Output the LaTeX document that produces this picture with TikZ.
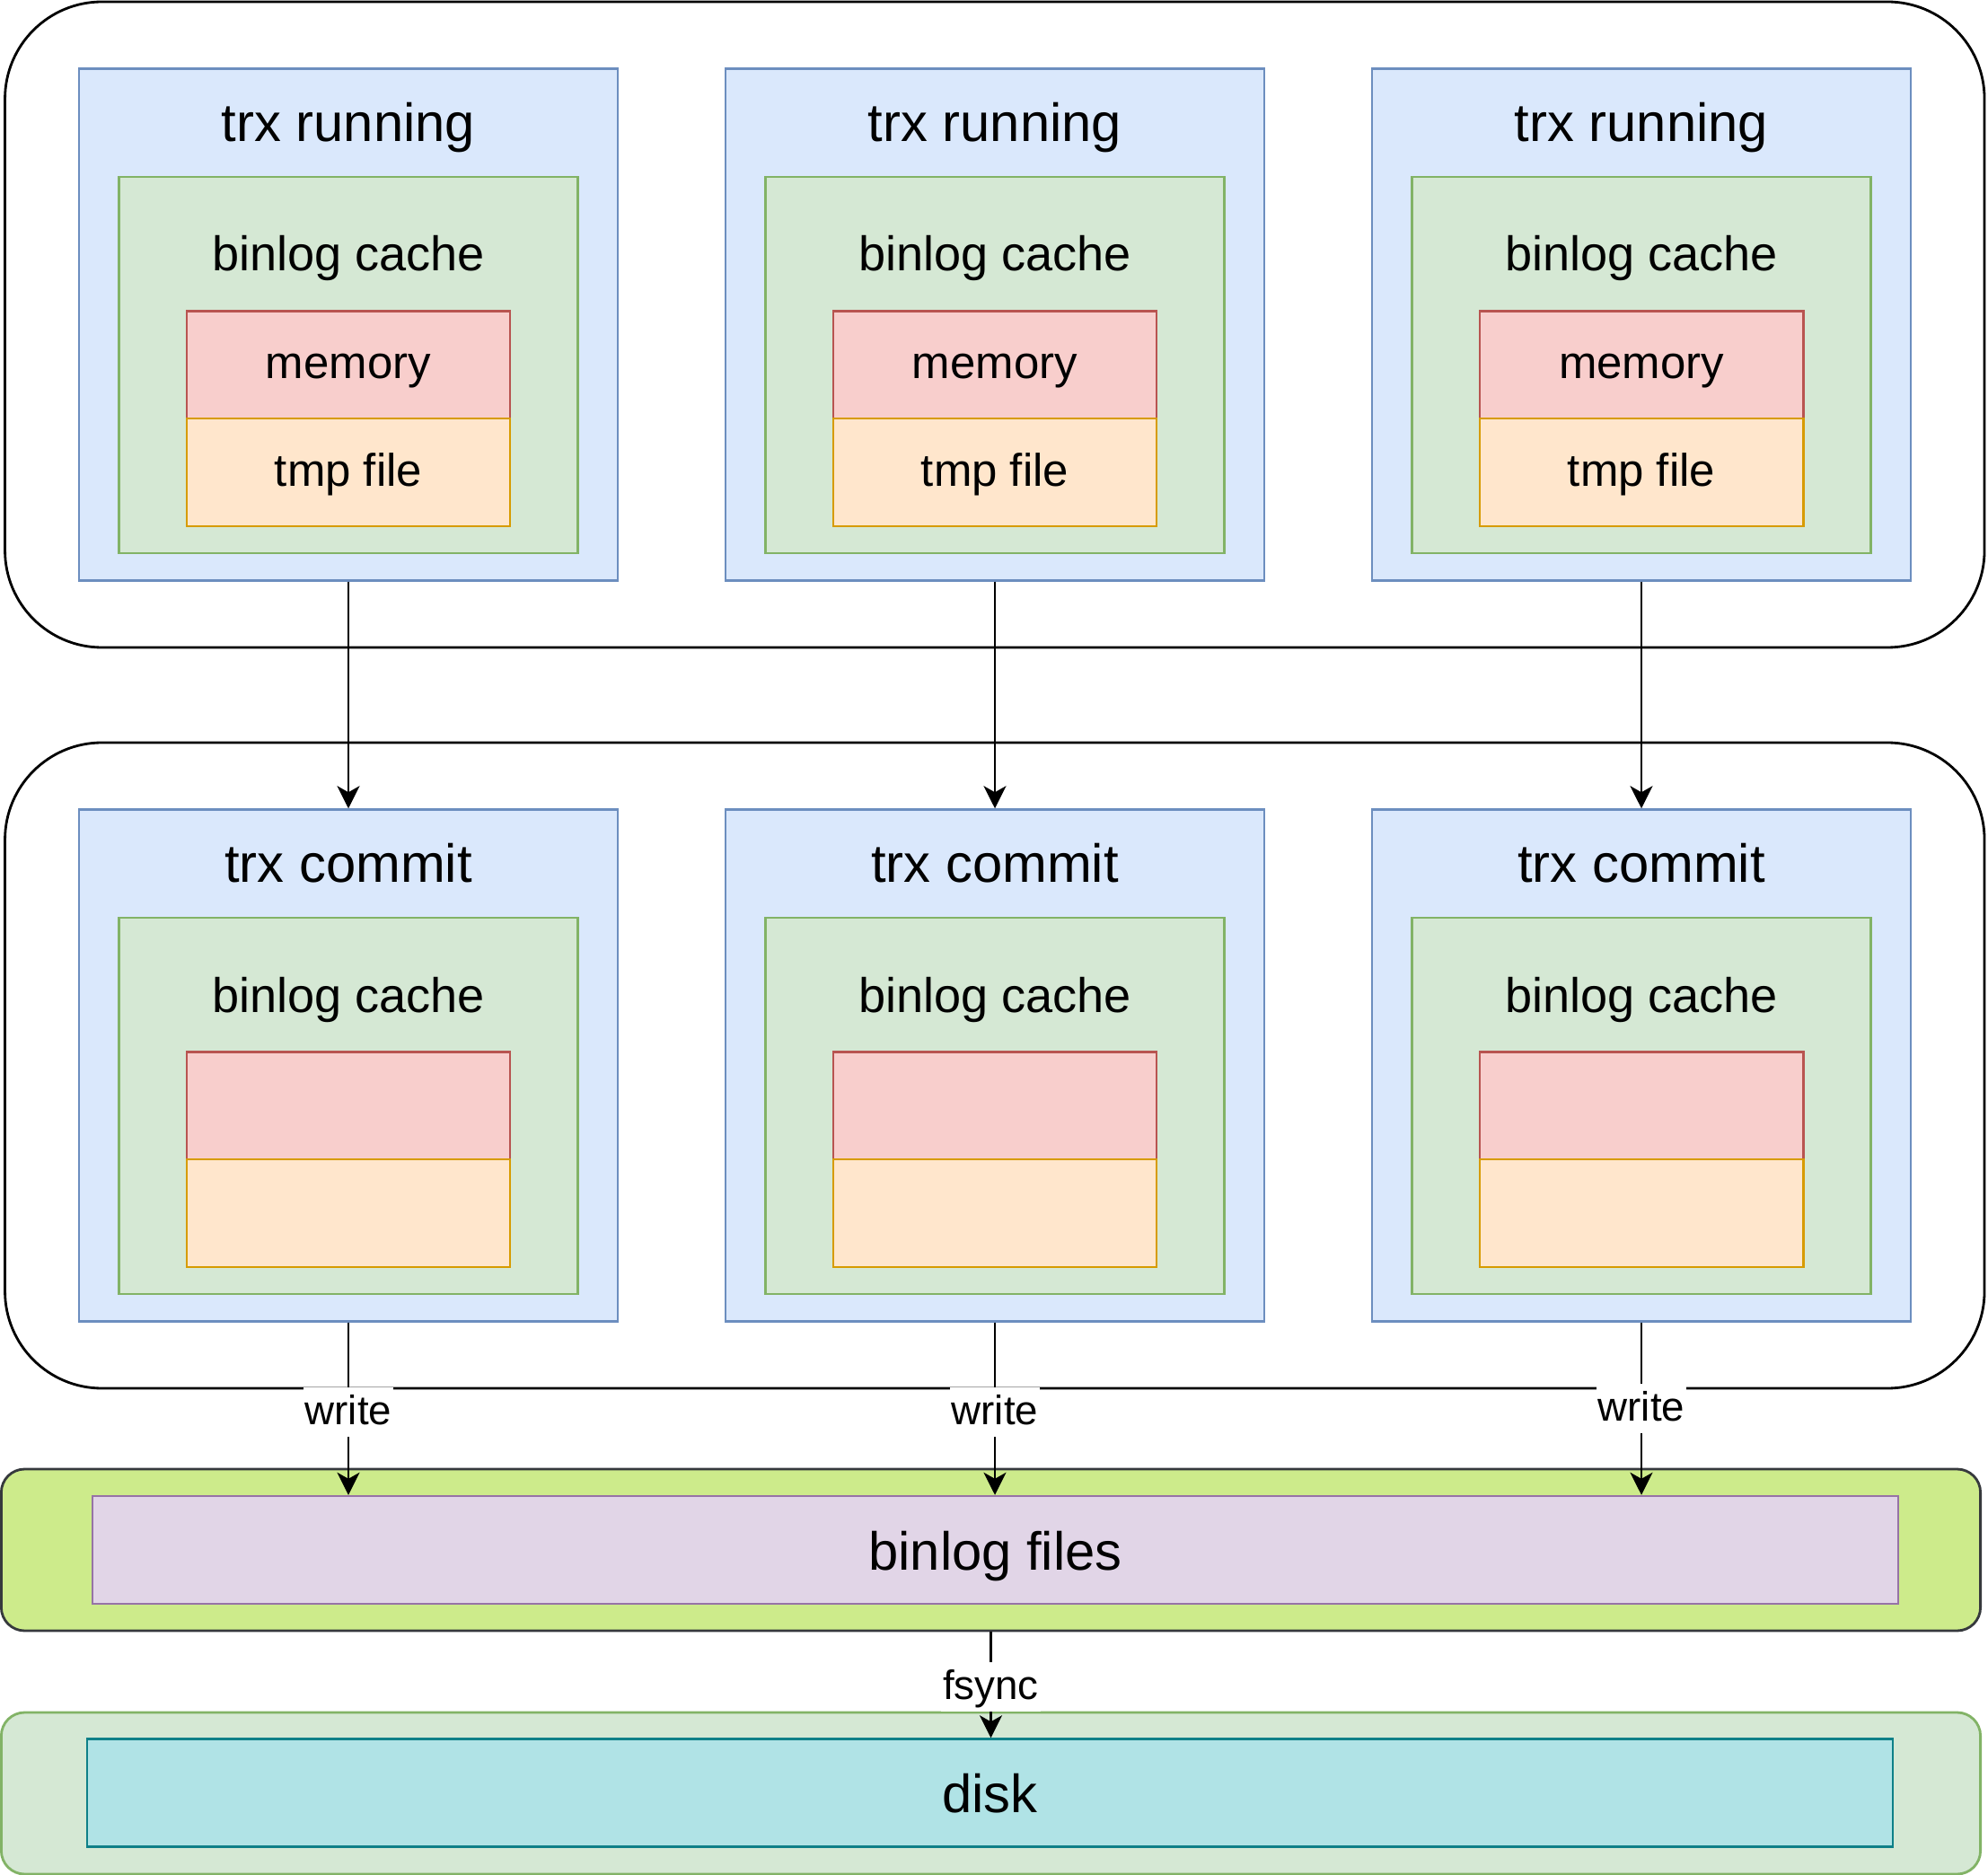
\documentclass[tikz,border=0pt]{standalone}
\usepackage{fontspec}
\setmainfont{Liberation Sans}
\usetikzlibrary{arrows.meta}
\definecolor{blueFill}{HTML}{DAE8FC}
\definecolor{blueLine}{HTML}{6C8EBF}
\definecolor{greenFill}{HTML}{D5E8D4}
\definecolor{greenLine}{HTML}{82B366}
\definecolor{redFill}{HTML}{F8CECC}
\definecolor{redLine}{HTML}{B85450}
\definecolor{orangeFill}{HTML}{FFE6CC}
\definecolor{orangeLine}{HTML}{D79B00}
\definecolor{purpleFill}{HTML}{E1D5E7}
\definecolor{purpleLine}{HTML}{9673A6}
\definecolor{limeFill}{HTML}{CDEB8B}
\definecolor{limeLine}{HTML}{36393D}
\definecolor{diskFill}{HTML}{B0E3E6}
\definecolor{diskLine}{HTML}{0E8088}

\begin{document}
\begin{tikzpicture}[y=-1cm,
  area/.style={draw=black, line width=0.8pt, rounded corners=1.08cm, inner sep=0, minimum width=22.045cm, minimum height=7.19cm},
  trxbox/.style={draw=blueLine, fill=blueFill, line width=0.7pt, inner sep=0, minimum width=6cm, minimum height=5.7cm},
  cachebox/.style={draw=greenLine, fill=greenFill, line width=0.7pt, inner sep=0, minimum width=5.11cm, minimum height=4.19cm},
  membox/.style={draw=redLine, fill=redFill, line width=0.7pt, inner sep=0, minimum width=3.605cm, minimum height=1.2cm, font=\fontsize{14.5}{17}\selectfont, text height=0.44cm, text depth=0.14cm},
  filebox/.style={membox, draw=orangeLine, fill=orangeFill},
  bigtext/.style={font=\fontsize{17}{20}\selectfont, anchor=base, inner sep=0},
  cachetext/.style={font=\fontsize{15.4}{18}\selectfont, anchor=base, inner sep=0},
  storebox/.style={line width=0.8pt, rounded corners=0.26cm, inner sep=0, minimum width=22.042cm, minimum height=1.8cm},
  wide/.style={line width=0.7pt, inner sep=0, minimum width=20.11cm, minimum height=1.2cm, font=\fontsize{17}{20}\selectfont, text height=0.58cm, text depth=0.14cm},
  flow/.style={line width=0.7pt, -{Stealth[length=0.25cm, width=0.25cm, inset=0.07cm]}},
  lbl/.style={fill=white, inner xsep=0.02cm, inner ysep=0, text height=0.41cm, text depth=0.14cm, font=\fontsize{13}{15}\selectfont}]
\useasboundingbox (0,0) rectangle (22.14,20.88);

% running transactions
\node[area] (runarea) at (11.078,3.615) {};
\node[trxbox] (run1) at (3.88,3.615) {};
\node[trxbox] (run2) at (11.08,3.615) {};
\node[trxbox] (run3) at (18.28,3.615) {};
\node[bigtext] (run1t) at (3.88,1.58) {trx running};
\node[bigtext] (run2t) at (11.08,1.58) {trx running};
\node[bigtext] (run3t) at (18.28,1.58) {trx running};
\node[cachebox] (rcache1) at (3.88,4.063) {};
\node[cachebox] (rcache2) at (11.08,4.063) {};
\node[cachebox] (rcache3) at (18.28,4.063) {};
\node[cachetext] (rcache1t) at (3.88,3.02) {binlog cache};
\node[cachetext] (rcache2t) at (11.08,3.02) {binlog cache};
\node[cachetext] (rcache3t) at (18.28,3.02) {binlog cache};
\node[membox] (rmem1) at (3.88,4.063) {memory};
\node[membox] (rmem2) at (11.08,4.063) {memory};
\node[membox] (rmem3) at (18.28,4.063) {memory};
\node[filebox] (rfile1) at (3.88,5.261) {tmp file};
\node[filebox] (rfile2) at (11.08,5.261) {tmp file};
\node[filebox] (rfile3) at (18.28,5.261) {tmp file};

% committing transactions
\node[area] (commitarea) at (11.078,11.865) {};
\node[trxbox] (commit1) at (3.88,11.865) {};
\node[trxbox] (commit2) at (11.08,11.865) {};
\node[trxbox] (commit3) at (18.28,11.865) {};
\node[bigtext] (commit1t) at (3.88,9.83) {trx commit};
\node[bigtext] (commit2t) at (11.08,9.83) {trx commit};
\node[bigtext] (commit3t) at (18.28,9.83) {trx commit};
\node[cachebox] (ccache1) at (3.88,12.313) {};
\node[cachebox] (ccache2) at (11.08,12.313) {};
\node[cachebox] (ccache3) at (18.28,12.313) {};
\node[cachetext] (ccache1t) at (3.88,11.27) {binlog cache};
\node[cachetext] (ccache2t) at (11.08,11.27) {binlog cache};
\node[cachetext] (ccache3t) at (18.28,11.27) {binlog cache};
\node[membox] (cmem1) at (3.88,12.313) {};
\node[membox] (cmem2) at (11.08,12.313) {};
\node[membox] (cmem3) at (18.28,12.313) {};
\node[filebox] (cfile1) at (3.88,13.511) {};
\node[filebox] (cfile2) at (11.08,13.511) {};
\node[filebox] (cfile3) at (18.28,13.511) {};

% storage
\node[storebox, draw=limeLine, fill=limeFill] (filearea) at (11.035,17.26) {};
\node[wide, draw=purpleLine, fill=purpleFill] (binfiles) at (11.085,17.26) {binlog files};
\node[storebox, draw=greenLine, fill=greenFill] (diskarea) at (11.035,19.97) {};
\node[wide, draw=diskLine, fill=diskFill] (disk) at (11.025,19.965) {disk};

% arrows
\draw[flow] (run1) -- (commit1);
\draw[flow] (run2) -- (commit2);
\draw[flow] (run3) -- (commit3);
\draw[flow] (commit1) -- node[lbl, pos=0.52] {write} (commit1 |- binfiles.north);
\draw[flow] (commit2) -- node[lbl, pos=0.52] {write} (commit2 |- binfiles.north);
\draw[flow] (commit3) -- node[lbl, pos=0.5] {write} (commit3 |- binfiles.north);
\draw[flow] (filearea.south) -- node[lbl, pos=0.52] {fsync} (filearea.south |- disk.north);
\end{tikzpicture}
\end{document}
